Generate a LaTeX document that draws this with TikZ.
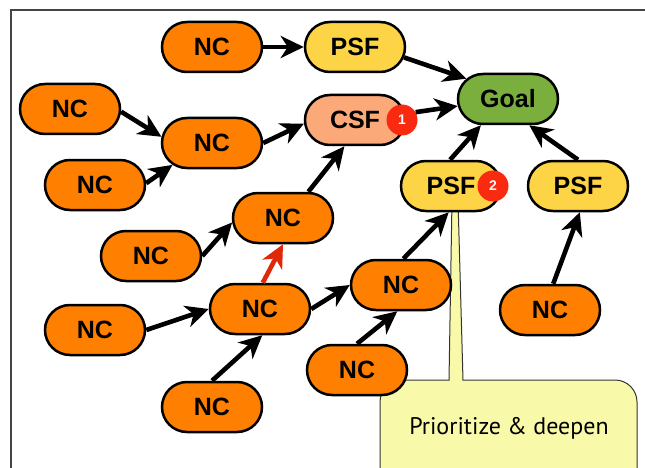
\documentclass[tikz,border=0pt]{standalone}
\usepackage{fontspec}
\setmainfont{Liberation Sans}
\newfontfamily\notefont{PT Sans}
\usetikzlibrary{arrows.meta,shapes.misc}

\definecolor{ncfill}{HTML}{FF7F00}
\definecolor{psffill}{HTML}{FDD445}
\definecolor{goalfill}{HTML}{7AAF3E}
\definecolor{csffill}{HTML}{FCA97A}
\definecolor{badgered}{HTML}{FA2A10}
\definecolor{redarrow}{HTML}{E02808}
\definecolor{notefill}{HTML}{F9F9AA}
\definecolor{noteline}{HTML}{333333}
\definecolor{framec}{HTML}{454545}

\pgfdeclarelayer{back}
\pgfsetlayers{back,main}

\begin{document}
\begin{tikzpicture}[x=1pt,y=-1pt,
  box/.style={rounded rectangle, draw=black, line width=2.5pt,
    minimum width=100pt, minimum height=50pt, inner sep=0pt,
    font=\fontsize{25}{25}\selectfont\bfseries},
  nc/.style={box, fill=ncfill},
  psf/.style={box, fill=psffill},
  csf/.style={box, fill=csffill},
  goal/.style={box, fill=goalfill},
  badge/.style={circle, fill=badgered, text=white, inner sep=0pt,
    minimum size=31pt, font=\fontsize{14}{14}\selectfont\bfseries},
  link/.style={line width=4.6pt, -{Stealth[length=23pt,width=22pt,inset=7pt]}},
]
\useasboundingbox (0,0) rectangle (645,468);

% nodes
\node[nc] (nc1) at (212,47) {NC};
\node[psf] (psf1) at (355,47) {PSF};
\node[goal] (goal) at (508,99) {Goal};
\node[nc] (nc2) at (70,109) {NC};
\node[nc] (nc3) at (212,143) {NC};
\node[csf] (csf) at (355,120) {CSF};
\node[nc] (nc4) at (95,185) {NC};
\node[psf] (psf2) at (451,186) {PSF};
\node[psf] (psf3) at (578,186) {PSF};
\node[nc] (nc5) at (283,218) {NC};
\node[nc] (nc6) at (151,256) {NC};
\node[nc] (nc7) at (260,309) {NC};
\node[nc] (nc8) at (401,285) {NC};
\node[nc] (nc9) at (95,330) {NC};
\node[nc] (nc10) at (550,310) {NC};
\node[nc] (nc11) at (357,370) {NC};
\node[nc] (nc12) at (212,407) {NC};

% priority badges
\node[badge] (b1) at (402,120) {1};
\node[badge] (b2) at (493,186) {2};

% frame and callout behind everything
\begin{pgfonlayer}{back}
  \draw[framec, line width=1.4pt] (11,490) -- (11,10) -- (660,10);
  \draw[draw=noteline, fill=notefill, line width=1pt, rounded corners=22pt]
    (380,380) rectangle (637,520);
  \fill[notefill] (452,200) -- (449,381.5) -- (463,381.5) -- (458,200) -- cycle;
  \draw[noteline, line width=1pt] (452,200) -- (449,380.5);
  \draw[noteline, line width=1pt] (458,200) -- (463,380.5);
\end{pgfonlayer}
\node[font=\notefont\fontsize{24}{24}\selectfont] (note) at (509,428) {Prioritize \& deepen};

% connectors
\draw[link] (nc1.east) -- (psf1.west);
\draw[link] (psf1.-12) -- (goal.154);
\draw[link] (b1.30) -- (goal.188);
\draw[link] (psf2.92) -- (goal.224);
\draw[link] (psf3.north) -- (goal.309);
\draw[link] (nc2.-3) -- (nc3.173);
\draw[link] (nc4.2) -- (nc3.209);
\draw[link] (nc3.east) -- (csf.184);
\draw[link] (nc5.46) -- (csf.248);
\draw[link] (nc6.east) -- (nc5.185);
\draw[link, color=redarrow] (nc7.84) -- (nc5.south);
\draw[link] (nc9.east) -- (nc7.west);
\draw[link] (nc12.north) -- (nc7.275);
\draw[link] (nc7.east) -- (nc8.west);
\draw[link] (nc11.north) -- (nc8.262);
\draw[link] (nc8.85) -- (psf2.265);
\draw[link] (nc10.83) -- (psf3.274);
\end{tikzpicture}
\end{document}
